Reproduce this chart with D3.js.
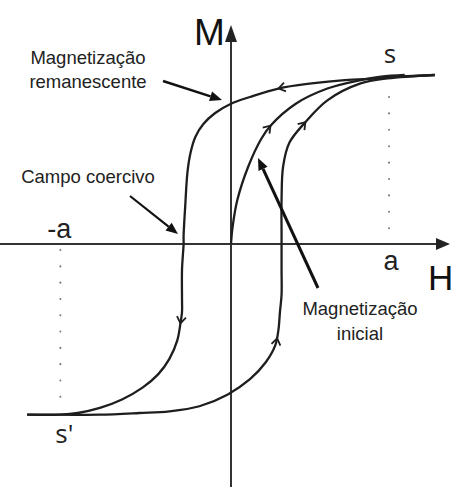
<!DOCTYPE html>
<html><head><meta charset="utf-8">
<script src="https://cdn.jsdelivr.net/npm/d3@7"></script>
<style>body{margin:0;background:#fff}svg{display:block}</style>
</head><body>
<script>
// Hysteresis loop, H in units of a, M in units of saturation Ms
const descending = [[1.29,1.00],[1.07,0.99],[0.93,0.98],[0.72,0.97],[0.51,0.95],[0.30,0.92],[0.12,0.87],[0,0.83],[-0.10,0.775],[-0.175,0.71],[-0.225,0.635],[-0.255,0.545],[-0.275,0.43],[-0.29,0.22],[-0.30,0.05],[-0.30,0],[-0.31,-0.15],[-0.31,-0.33],[-0.31,-0.40],[-0.32,-0.47],[-0.34,-0.57],[-0.39,-0.68],[-0.46,-0.77],[-0.56,-0.85],[-0.69,-0.92],[-0.83,-0.97],[-0.97,-1.00],[-1.08,-1.01],[-1.29,-1.01]];
const ascending = [[-1.29,-1.01],[-1.08,-1.01],[-0.83,-1.01],[-0.58,-1.00],[-0.39,-0.99],[-0.20,-0.96],[-0.02,-0.89],[0.12,-0.80],[0.22,-0.70],[0.28,-0.60],[0.30,-0.51],[0.31,-0.40],[0.32,-0.30],[0.32,-0.15],[0.32,0],[0.32,0.07],[0.32,0.26],[0.33,0.46],[0.37,0.60],[0.47,0.72],[0.61,0.85],[0.82,0.95],[0.99,0.98],[1.29,1.00]];
const initial = [[0,0],[0.01,0.10],[0.04,0.26],[0.11,0.46],[0.19,0.62],[0.25,0.70],[0.41,0.83],[0.61,0.92],[0.82,0.97],[0.95,0.99],[1.10,1.00]];
const curveArrows = [["descending",0.30,0.92],["descending",-0.32,-0.47],["ascending",0.30,-0.56],["ascending",0.47,0.72],["initial",0.25,0.70]];
const axisLabels = ["H","M"];
const tickLabels = [["a",1.0],["-a",-1.08]];
const satLabels = [["s",1.0,1.0],["s'",-1.08,-1.01]];
const notes = [["Magnetização","remanescente"],["Campo coercivo"],["Magnetização","inicial"]];

const W=456,H=490;
const svg=d3.select("body").append("svg").attr("width",W).attr("height",H);
svg.append("rect").attr("width",W).attr("height",H).attr("fill","#fff");
const x=d3.scaleLinear().domain([0,1]).range([231,389]);
const y=d3.scaleLinear().domain([0,1]).range([244,75]);
const ink="#1e1e1e";

// axes
svg.append("line").attr("x1",0).attr("x2",438).attr("y1",y(0)).attr("y2",y(0)).attr("stroke","#333").attr("stroke-width",2);
svg.append("path").attr("d",`M450,${y(0)} L436,${y(0)-6} L436,${y(0)+6} Z`).attr("fill","#222");
svg.append("line").attr("x1",x(0)).attr("x2",x(0)).attr("y1",487).attr("y2",38).attr("stroke","#333").attr("stroke-width",2);
svg.append("path").attr("d",`M${x(0)},25 L${x(0)-6},42 L${x(0)+6},42 Z`).attr("fill","#222");

// dotted guides
svg.append("line").attr("x1",x(1)).attr("x2",x(1)).attr("y1",y(0.87)).attr("y2",y(0)).attr("stroke","#777").attr("stroke-width",2).attr("stroke-dasharray","0.1,16.3").attr("stroke-linecap","round");
svg.append("line").attr("x1",x(-1.08)).attr("x2",x(-1.08)).attr("y1",y(0)+6).attr("y2",y(-0.99)).attr("stroke","#777").attr("stroke-width",2).attr("stroke-dasharray","0.1,16.2").attr("stroke-linecap","round");

// curves
const line=d3.line().x(d=>x(d[0])).y(d=>y(d[1])).curve(d3.curveCatmullRom.alpha(0.5));
const curves={descending,ascending,initial};
const nodes={};
for(const k in curves){
  nodes[k]=svg.append("path").attr("d",line(curves[k])).attr("fill","none").attr("stroke",ink).attr("stroke-width",2.3).attr("stroke-linejoin","round").node();
}
// chevrons on curves
curveArrows.forEach(([k,h,m])=>{
  const p=nodes[k],L=p.getTotalLength(),tx=x(h),ty=y(m);
  let best=0,bd=1e9;
  for(let l=0;l<=L;l+=0.5){const q=p.getPointAtLength(l);const d=(q.x-tx)**2+(q.y-ty)**2;if(d<bd){bd=d;best=l;}}
  const a=p.getPointAtLength(Math.max(0,best-2)),b=p.getPointAtLength(Math.min(L,best+2)),c=p.getPointAtLength(best);
  const ang=Math.atan2(b.y-a.y,b.x-a.x),len=8,sp=0.6;
  const p1=[c.x-len*Math.cos(ang-sp),c.y-len*Math.sin(ang-sp)],p2=[c.x-len*Math.cos(ang+sp),c.y-len*Math.sin(ang+sp)];
  svg.append("path").attr("d",`M${p1}L${c.x},${c.y}L${p2}`).attr("fill","none").attr("stroke",ink).attr("stroke-width",1.8);
});

// labels
const font="Liberation Sans, Arial, sans-serif";
svg.append("text").text(axisLabels[1]).attr("x",194).attr("y",45).attr("font-family",font).attr("font-size",37).attr("fill","#111");
svg.append("text").text(axisLabels[0]).attr("x",428).attr("y",290).attr("font-family",font).attr("font-size",35).attr("fill","#111");
svg.append("text").text(tickLabels[0][0]).attr("x",x(tickLabels[0][1])+2).attr("y",270).attr("text-anchor","middle").attr("font-family",font).attr("font-size",27).attr("fill","#222");
svg.append("text").text(tickLabels[1][0]).attr("x",x(tickLabels[1][1])-1).attr("y",238).attr("text-anchor","middle").attr("font-family",font).attr("font-size",27).attr("fill","#222");
svg.append("text").text(satLabels[0][0]).attr("x",x(satLabels[0][1])+1).attr("y",y(satLabels[0][2])-12).attr("text-anchor","middle").attr("font-family","Open Sans, sans-serif").attr("font-size",26).attr("fill","#222");
svg.append("text").text(satLabels[1][0]).attr("x",x(satLabels[1][1])+4).attr("y",y(satLabels[1][2])+28).attr("text-anchor","middle").attr("font-family","Open Sans, sans-serif").attr("font-size",26).attr("fill","#222");

// annotations
function note(lines,cx,by,lh){
  lines.forEach((t,i)=>svg.append("text").text(t).attr("x",cx).attr("y",by+i*lh).attr("text-anchor","middle").attr("font-family",font).attr("font-size",18.5).attr("fill","#222"));
}
function arrow(x1,y1,x2,y2,w){
  const ang=Math.atan2(y2-y1,x2-x1),hl=12,hw=5;
  const bx=x2-hl*Math.cos(ang),by=y2-hl*Math.sin(ang);
  svg.append("line").attr("x1",x1).attr("y1",y1).attr("x2",bx).attr("y2",by).attr("stroke","#111").attr("stroke-width",w);
  svg.append("path").attr("d",`M${x2},${y2}L${bx+hw*Math.sin(ang)},${by-hw*Math.cos(ang)}L${bx-hw*Math.sin(ang)},${by+hw*Math.cos(ang)}Z`).attr("fill","#111");
}
note(notes[0],88,64,24);
arrow(163,81,222,100,2.5);
note(notes[1],88,183,24);
arrow(130,196,178,234,2.2);
note(notes[2],360,315,25);
arrow(318,288,258,158,3);
</script>
</body></html>
